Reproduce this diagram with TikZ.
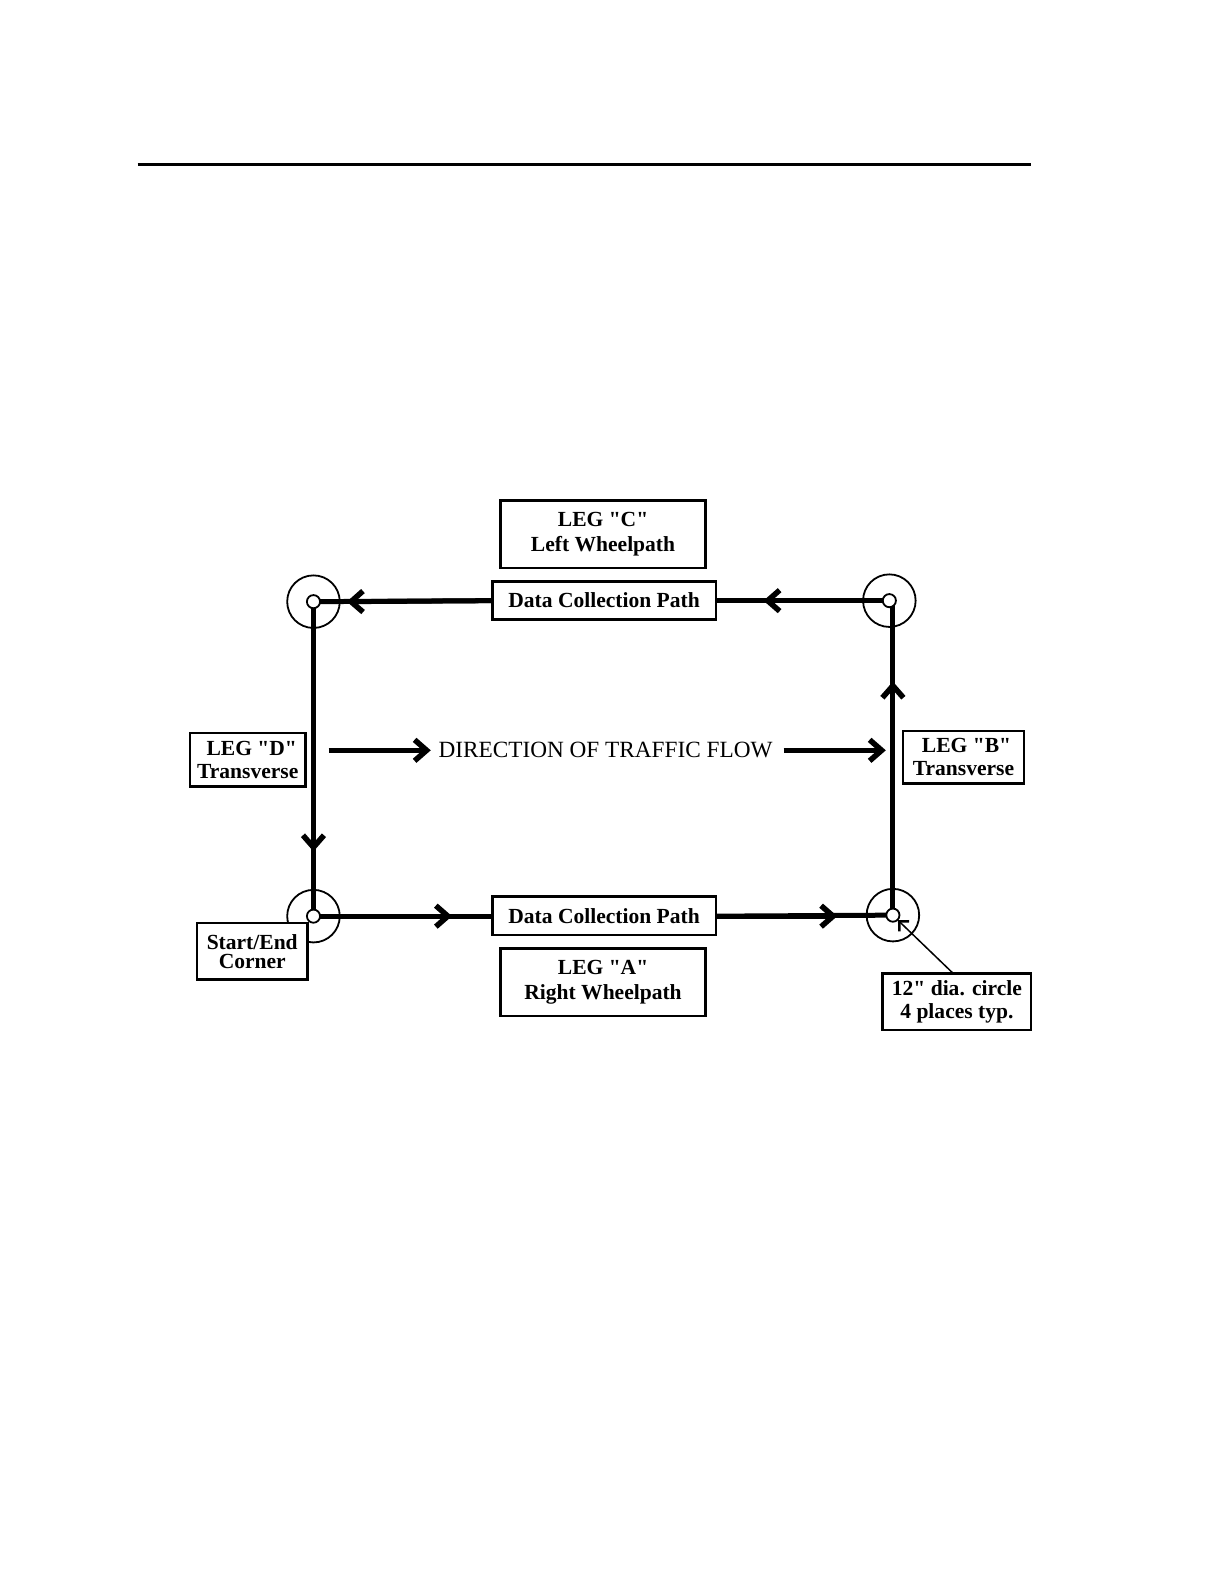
\documentclass[tikz,border=0pt]{standalone}
\usepackage{fontspec}
\setmainfont{Liberation Serif}[Ligatures=TeXOff]
\usetikzlibrary{arrows.meta}
\begin{document}
\begin{tikzpicture}[x=1pt,y=-1pt,scale=1.011,transform shape,
  box/.style={draw,line width=2.5pt,fill=white,inner sep=0pt,align=center,
    font=\bfseries\fontsize{21.3}{25}\selectfont},
  trk/.style={line width=5pt},
  tip/.style={-{Straight Barb[length=12pt,width=21pt,line width=5.5pt]}},
  ring/.style={circle,draw,line width=1.8pt,minimum size=52pt,inner sep=0pt},
  dot/.style={circle,draw,fill=white,line width=1.8pt,minimum size=13pt,inner sep=0pt}]
\useasboundingbox (0,0) rectangle (1210.7,1566.8);
% top rule
\coordinate (r1) at (136,163);
\coordinate (r2) at (1020,163);
\draw[line width=3pt] (r1) -- (r2);
% corners
\coordinate (tl) at (310,595);
\coordinate (tr) at (879.5,594);
\coordinate (trv) at (883,594);
\coordinate (bl) at (310,906);
\coordinate (br) at (883,905);
\node[ring] (rtl) at (tl) {};
\node[ring] (rtr) at (tr) {};
\node[ring] (rbl) at (bl) {};
\node[ring] (rbr) at (br) {};
% boxes
\node[box,minimum width=203pt,minimum height=67pt] (legC) at (596.5,528.5) {LEG "C"\\Left Wheelpath};
\node[box,minimum width=221pt,minimum height=38pt] (dcpT) at (597.5,594) {Data Collection Path};
\node[box,minimum width=114pt,minimum height=53pt,font=\bfseries\fontsize{21.3}{23}\selectfont] (legD) at (245,751.5) {\hspace*{8pt}LEG "D"\\Transverse};
\node[box,minimum width=120pt,minimum height=52pt,font=\bfseries\fontsize{21.3}{23}\selectfont] (legB) at (953,749) {\hspace*{6pt}LEG "B"\\Transverse};
\node[box,minimum width=109pt,minimum height=56pt,font=\bfseries\fontsize{21.3}{19}\selectfont] (start) at (249.5,941) {Start/End\\Corner};
\node[box,minimum width=221pt,minimum height=38pt] (dcpB) at (597.5,906) {Data Collection Path};
\node[box,minimum width=203pt,minimum height=67pt] (legA) at (596.5,971.5) {LEG "A"\\Right Wheelpath};
\node[box,minimum width=147pt,minimum height=56pt,font=\bfseries\fontsize{21.3}{22}\selectfont] (dia) at (946.5,991) {12" dia. circle\\4 places typ.};
% direction text
\node[font=\fontsize{23}{26}\selectfont,inner sep=0pt] (dir) at (599,742) {DIRECTION OF TRAFFIC FLOW};
\coordinate (d1) at (325,742);
\coordinate (d2) at (426,742);
\coordinate (d3) at (775,742);
\coordinate (d4) at (876,742);
\draw[trk,tip] (d1) -- (d2);
\draw[trk,tip] (d3) -- (d4);
% mid-arrow coordinates
\coordinate (aT1) at (755,594);
\coordinate (aT2) at (343,595);
\coordinate (aL) at (310,842);
\coordinate (aB1) at (447,906);
\coordinate (aB2) at (828,906);
\coordinate (aR) at (883,674);
% track: full lines
\draw[trk] (tr) -- (dcpT.east);
\draw[trk] (dcpT.west) -- (tl);
\draw[trk] (tl) -- (bl);
\draw[trk] (bl) -- (dcpB.west);
\draw[trk] (dcpB.east) -- (br);
\draw[trk] (br) -- (trv);
% arrow heads along the track
\draw[trk,tip] (tr) -- (aT1);
\draw[trk,tip] (dcpT.west) -- (aT2);
\draw[trk,tip] (tl) -- (aL);
\draw[trk,tip] (bl) -- (aB1);
\draw[trk,tip] (dcpB.east) -- (aB2);
\draw[trk,tip] (br) -- (aR);
% small dots on top
\node[dot] (ptl) at (tl) {};
\node[dot] (ptr) at (tr) {};
\node[dot] (pbl) at (bl) {};
\node[dot] (pbr) at (br) {};
% leader
\coordinate (lead) at (888,910);
\coordinate (ls) at (943,963);
\draw[line width=1.5pt,-{Straight Barb[length=7pt,width=14pt,line width=2.5pt]}] (ls) -- (lead);
\end{tikzpicture}
\end{document}
